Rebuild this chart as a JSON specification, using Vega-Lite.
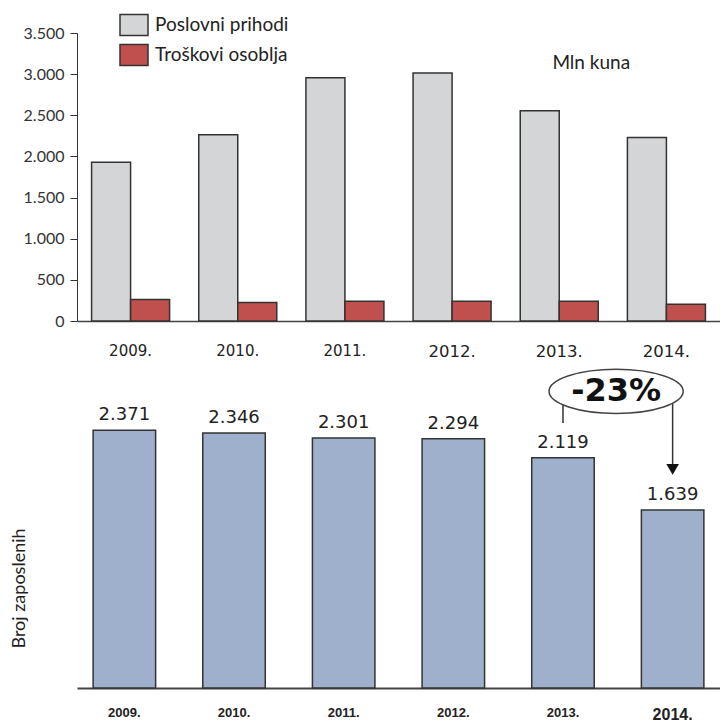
{
  "$schema": "https://vega.github.io/schema/vega-lite/v6.json",
  "padding": {"left": 10, "top": 10, "right": 0, "bottom": 0},
  "spacing": 2,
  "config": {
    "locale": {"number": {"decimal": ",", "thousands": ".", "grouping": [3], "currency": ["", ""]}},
    "view": {"stroke": null},
    "axis": {"grid": false, "titleFontWeight": "normal"}
  },
  "vconcat": [
    {
      "width": 643,
      "height": 288,
      "data": {"values": [
        {"year": "2009.", "series": "Poslovni prihodi", "value": 1930},
        {"year": "2009.", "series": "Troškovi osoblja", "value": 260},
        {"year": "2010.", "series": "Poslovni prihodi", "value": 2262},
        {"year": "2010.", "series": "Troškovi osoblja", "value": 224},
        {"year": "2011.", "series": "Poslovni prihodi", "value": 2956},
        {"year": "2011.", "series": "Troškovi osoblja", "value": 240},
        {"year": "2012.", "series": "Poslovni prihodi", "value": 3013},
        {"year": "2012.", "series": "Troškovi osoblja", "value": 240},
        {"year": "2013.", "series": "Poslovni prihodi", "value": 2554},
        {"year": "2013.", "series": "Troškovi osoblja", "value": 240},
        {"year": "2014.", "series": "Poslovni prihodi", "value": 2229},
        {"year": "2014.", "series": "Troškovi osoblja", "value": 203}
      ]},
      "layer": [
        {
          "mark": {"type": "bar", "stroke": "#333333", "strokeWidth": 1.5},
          "encoding": {
            "x": {
              "field": "year", "type": "nominal", "title": null,
              "scale": {"paddingInner": 0.272, "paddingOuter": 0.136},
              "axis": {
                "labelAngle": 0, "ticks": false, "domainColor": "#444444", "domainWidth": 1.5,
                "labelFont": "DejaVu Sans", "labelColor": "#222222", "labelPadding": 22,
                "labelFontSize": {"condition": {"test": "datum.value == '2012.' || datum.value == '2013.' || datum.value == '2014.'", "value": 16.5}, "value": 15}
              }
            },
            "xOffset": {"field": "series", "type": "nominal", "sort": ["Poslovni prihodi", "Troškovi osoblja"], "scale": {"paddingInner": 0, "paddingOuter": 0}},
            "y": {
              "field": "value", "type": "quantitative", "title": null,
              "scale": {"domain": [0, 3500]},
              "axis": {
                "values": [0, 500, 1000, 1500, 2000, 2500, 3000, 3500], "format": ",d",
                "domainColor": "#333333", "tickColor": "#333333", "tickSize": 7,
                "labelFont": "Lato", "labelFontSize": 16, "labelColor": "#333333", "labelPadding": 6
              }
            },
            "color": {
              "field": "series", "type": "nominal",
              "scale": {"domain": ["Poslovni prihodi", "Troškovi osoblja"], "range": ["#d4d5d7", "#c0504d"]},
              "legend": {
                "title": null, "orient": "none", "legendX": 42, "legendY": -23,
                "symbolType": "M-1,-0.75H1V0.75H-1Z", "symbolSize": 784,
                "symbolStrokeColor": "#333333", "symbolStrokeWidth": 1.5, "symbolOpacity": 1,
                "labelFont": "Lato", "labelFontSize": 19, "labelColor": "#222222",
                "rowPadding": 1, "labelOffset": 6
              }
            }
          }
        },
        {
          "data": {"values": [{"year": "2013.", "value": 3140, "label": "Mln kuna"}]},
          "mark": {"type": "text", "font": "Lato", "fontSize": 19, "color": "#222222", "dx": 32},
          "encoding": {
            "x": {"field": "year", "type": "nominal"},
            "y": {"field": "value", "type": "quantitative"},
            "text": {"field": "label"}
          }
        }
      ]
    },
    {
      "width": 643,
      "height": 326,
      "data": {"values": [
        {"year": "2009.", "employees": 2371},
        {"year": "2010.", "employees": 2346},
        {"year": "2011.", "employees": 2301},
        {"year": "2012.", "employees": 2294},
        {"year": "2013.", "employees": 2119},
        {"year": "2014.", "employees": 1639}
      ]},
      "layer": [
        {
          "mark": {"type": "bar", "color": "#9eb0cc", "stroke": "#333333", "strokeWidth": 1.5},
          "encoding": {
            "x": {
              "field": "year", "type": "nominal", "title": null,
              "scale": {"paddingInner": 0.43, "paddingOuter": 0.147},
              "axis": {
                "labelAngle": 0, "ticks": false, "domainColor": "#444444", "domainWidth": 2,
                "labelFont": "Liberation Sans", "labelFontWeight": "bold", "labelColor": "#222222", "labelPadding": 18,
                "labelFontSize": {"condition": {"test": "datum.value == '2014.'", "value": 16}, "value": 13}
              }
            },
            "y": {
              "field": "employees", "type": "quantitative", "title": "Broj zaposlenih",
              "scale": {"domain": [0, 3000]},
              "axis": {
                "labels": false, "ticks": false, "domain": false,
                "titleFont": "Lato", "titleFontSize": 18, "titleColor": "#222222",
                "titlePadding": 49, "titleY": 226
              }
            }
          }
        },
        {
          "mark": {"type": "text", "font": "DejaVu Sans", "fontSize": 18, "color": "#222222", "baseline": "bottom", "dy": -6},
          "encoding": {
            "x": {"field": "year", "type": "nominal"},
            "y": {"field": "employees", "type": "quantitative"},
            "text": {"field": "employees", "type": "quantitative", "format": ",d"}
          }
        },
        {
          "data": {"values": [
            {"year": "2013.", "y1": 2637, "y2": 2438},
            {"year": "2014.", "y1": 2637, "y2": 2030}
          ]},
          "mark": {"type": "rule", "color": "#333333", "strokeWidth": 1.5},
          "encoding": {
            "x": {"field": "year", "type": "nominal"},
            "y": {"field": "y1", "type": "quantitative"},
            "y2": {"field": "y2"}
          }
        },
        {
          "data": {"values": [{"year": "2014.", "y": 2012}]},
          "mark": {"type": "point", "shape": "triangle-down", "size": 160, "filled": true, "color": "#111111", "opacity": 1},
          "encoding": {
            "x": {"field": "year", "type": "nominal"},
            "y": {"field": "y", "type": "quantitative"}
          }
        },
        {
          "data": {"values": [{"year": "2013.", "y": 2730, "label": "-23%"}]},
          "layer": [
            {
              "mark": {"type": "point", "shape": "M-1,0C-1,-0.182,-0.5523,-0.33,0,-0.33C0.5523,-0.33,1,-0.182,1,0C1,0.182,0.5523,0.33,0,0.33C-0.5523,0.33,-1,0.182,-1,0Z", "size": 18000, "filled": false, "fill": "white", "fillOpacity": 1, "stroke": "#444444", "strokeWidth": 1.5, "opacity": 1},
              "encoding": {
                "x": {"field": "year", "type": "nominal", "bandPosition": 1.35},
                "y": {"field": "y", "type": "quantitative"}
              }
            },
            {
              "mark": {"type": "text", "font": "DejaVu Sans", "fontWeight": "bold", "fontSize": 32, "color": "#111111"},
              "encoding": {
                "x": {"field": "year", "type": "nominal", "bandPosition": 1.35},
                "y": {"field": "y", "type": "quantitative"},
                "text": {"field": "label"}
              }
            }
          ]
        }
      ]
    }
  ]
}
